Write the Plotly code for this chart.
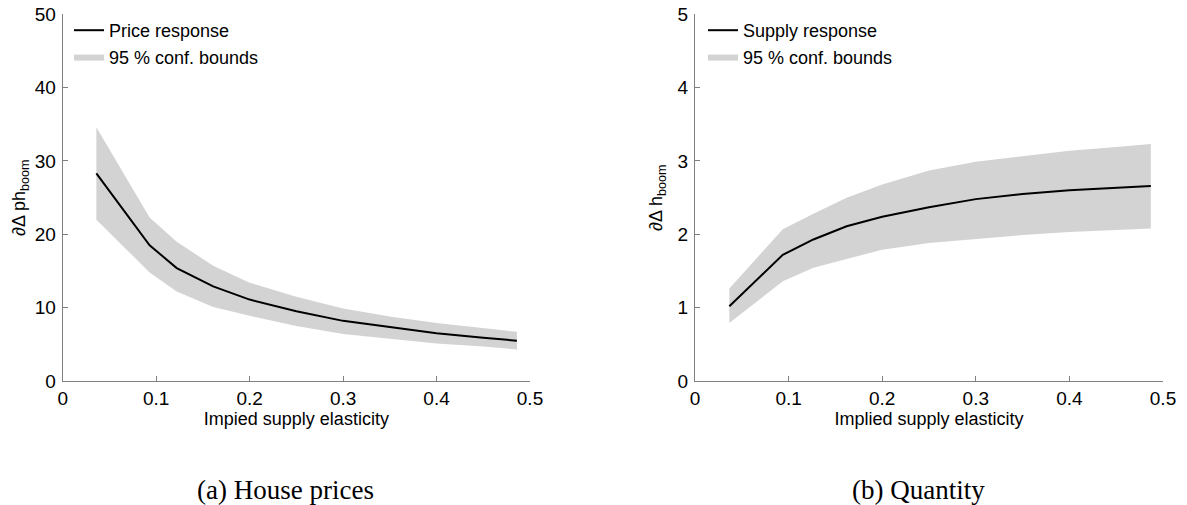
import plotly.graph_objects as go

# ---- data ----
x_price = [0.036, 0.093, 0.122, 0.161, 0.2, 0.25, 0.3, 0.35, 0.4, 0.45, 0.486]
price_mid = [28.3, 18.5, 15.4, 12.9, 11.1, 9.5, 8.2, 7.3, 6.5, 5.9, 5.5]
price_hi = [34.6, 22.3, 19.0, 15.7, 13.4, 11.5, 9.9, 8.8, 7.9, 7.2, 6.7]
price_lo = [22.0, 14.8, 12.2, 10.1, 8.9, 7.5, 6.4, 5.7, 5.1, 4.7, 4.3]

x_supply = [0.0367, 0.0938, 0.1265, 0.162, 0.2, 0.25, 0.3, 0.35, 0.4, 0.45, 0.487]
supply_mid = [1.02, 1.72, 1.93, 2.11, 2.24, 2.37, 2.48, 2.55, 2.60, 2.63, 2.66]
supply_hi = [1.26, 2.07, 2.28, 2.50, 2.68, 2.87, 2.99, 3.07, 3.14, 3.19, 3.23]
supply_lo = [0.79, 1.36, 1.545, 1.66, 1.79, 1.88, 1.94, 1.99, 2.03, 2.06, 2.08]

x_ticks = [0, 0.1, 0.2, 0.3, 0.4, 0.5]
x_tick_labels = ["0", "0.1", "0.2", "0.3", "0.4", "0.5"]

W, H = 1187, 505
BAND = "#d3d3d3"
AXC = "#808080"
SANS = "Liberation Sans, Arial, sans-serif"
SERIF = "Liberation Serif, Times New Roman, serif"

fig = go.Figure()

def add_panel(xs, mid, lo, hi, xa, ya, legend, name):
    fig.add_trace(go.Scatter(
        x=list(xs) + list(xs)[::-1], y=list(hi) + list(lo)[::-1],
        fill="toself", fillcolor=BAND, line=dict(width=0, color=BAND),
        mode="lines", name="95 % conf. bounds", xaxis=xa, yaxis=ya,
        legend=legend, legendrank=2, hoverinfo="skip"))
    fig.add_trace(go.Scatter(
        x=xs, y=mid, mode="lines", line=dict(color="black", width=2),
        name=name, xaxis=xa, yaxis=ya, legend=legend, legendrank=1))

add_panel(x_price, price_mid, price_lo, price_hi, "x", "y", "legend", "Price response")
add_panel(x_supply, supply_mid, supply_lo, supply_hi, "x2", "y2", "legend2", "Supply response")

def px_x(p):
    return p / W

def px_y(p):
    return 1 - p / H

ydom = [px_y(381), px_y(14.3)]

common_x = dict(range=[0, 0.5], tickvals=x_ticks, ticktext=x_tick_labels,
                showline=True, linecolor=AXC, linewidth=1, ticks="inside",
                ticklen=5, tickcolor=AXC, showgrid=False, zeroline=False,
                tickfont=dict(family=SANS, size=19, color="black"),
                ticklabelstandoff=0, ticklabeloverflow="allow", automargin=False)
common_y = dict(showline=True, linecolor=AXC, linewidth=1, ticks="inside",
                ticklen=5, tickcolor=AXC, showgrid=False, zeroline=False,
                tickfont=dict(family=SANS, size=19, color="black"),
                ticklabelstandoff=2, ticklabeloverflow="allow", automargin=False)

fig.update_layout(
    width=W, height=H, autosize=False,
    margin=dict(l=0, r=0, t=0, b=0),
    paper_bgcolor="white", plot_bgcolor="white",
    showlegend=True,
    xaxis=dict(domain=[px_x(62.7), px_x(530)], anchor="y",
               title=dict(text="Impied supply elasticity", standoff=0,
                          font=dict(family=SANS, size=18, color="black")),
               **common_x),
    yaxis=dict(domain=ydom, anchor="x", range=[0, 50], tickvals=[0, 10, 20, 30, 40, 50],
               title=dict(text="∂Δ ph<sub>boom</sub>", standoff=4,
                          font=dict(family=SANS, size=18, color="black")),
               **common_y),
    xaxis2=dict(domain=[px_x(695), px_x(1163)], anchor="y2",
                title=dict(text="Implied supply elasticity", standoff=0,
                           font=dict(family=SANS, size=18, color="black")),
                **common_x),
    yaxis2=dict(domain=ydom, anchor="x2", range=[0, 5], tickvals=[0, 1, 2, 3, 4, 5],
                title=dict(text="∂Δ h<sub>boom</sub>", standoff=10,
                           font=dict(family=SANS, size=18, color="black")),
                **common_y),
    legend=dict(x=px_x(69), y=px_y(12), xanchor="left", yanchor="top",
                bgcolor="rgba(0,0,0,0)", borderwidth=0, itemwidth=30,
                tracegroupgap=0,
                font=dict(family=SANS, size=18, color="black")),
    legend2=dict(x=px_x(703), y=px_y(12), xanchor="left", yanchor="top",
                 bgcolor="rgba(0,0,0,0)", borderwidth=0, itemwidth=30,
                 tracegroupgap=0,
                 font=dict(family=SANS, size=18, color="black")),
    annotations=[
        dict(text="(a) House prices", x=px_x(285), y=px_y(490), xref="paper", yref="paper",
             showarrow=False, xanchor="center", yanchor="middle",
             font=dict(family=SERIF, size=27, color="black")),
        dict(text="(b) Quantity", x=px_x(918), y=px_y(490), xref="paper", yref="paper",
             showarrow=False, xanchor="center", yanchor="middle",
             font=dict(family=SERIF, size=27, color="black")),
    ],
)

# remove the page's default 8px body margin so the figure fills the window
fig.write_html("out.html", config={"displayModeBar": False},
               post_script="document.body.style.margin='0';")
